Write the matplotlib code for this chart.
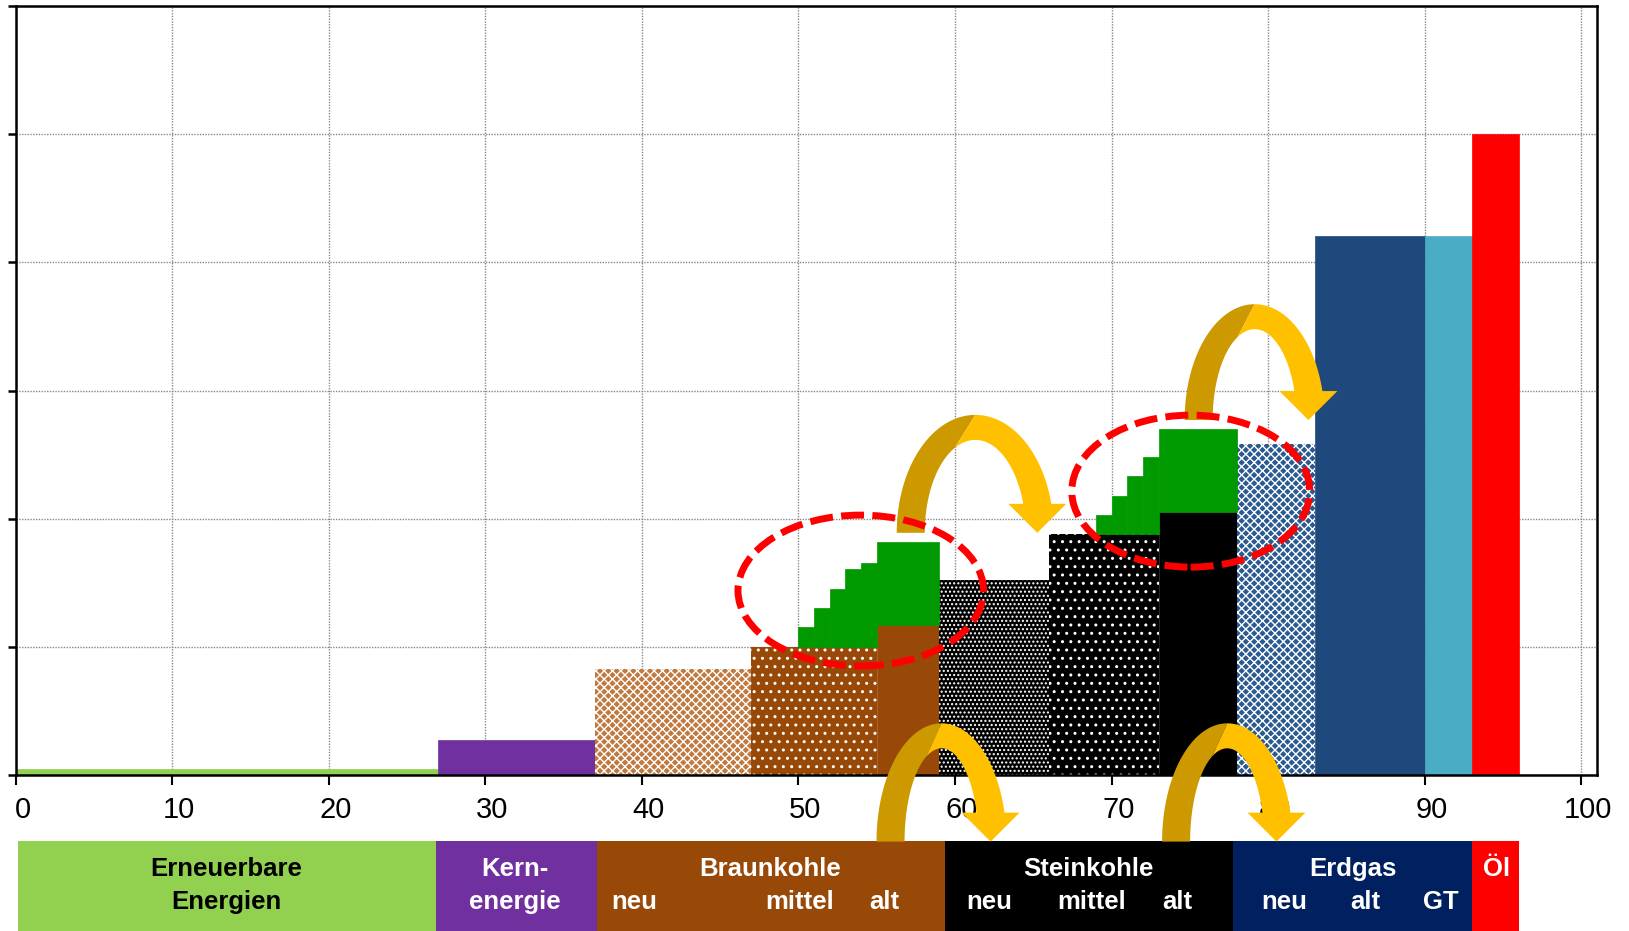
import numpy as np
import matplotlib
matplotlib.use("Agg")
import matplotlib.pyplot as plt
from matplotlib.patches import Ellipse, Polygon, Rectangle
import matplotlib.transforms as mtransforms

# ---------------- data ----------------
bar_left = [0, 27, 37, 47, 55, 59, 66, 73, 78, 83, 90, 93]
bar_width = [27, 10, 10, 8, 4, 7, 7, 5, 5, 7, 3, 3]
bar_height = [0.05, 0.275, 0.83, 1.0, 1.17, 1.52, 1.88, 2.05, 2.58, 4.21, 4.21, 5.0]
bar_color = ['#92D050', '#7030A0', '#C07A40', '#984807', '#984807',
             '#000000', '#000000', '#000000', '#2A5A90', '#1F497D', '#4BACC6', '#FF0000']
bar_hatch = [None, None, 'xxxx', '..', None, '....', '..', None, 'xxxx', None, None, None]

# green staircases (additional capacity)
stairs1_left = [50, 51, 52, 53, 54, 55]
stairs1_width = [1, 1, 1, 1, 1, 4]
stairs1_bottom = [1.0, 1.0, 1.0, 1.0, 1.0, 1.17]
stairs1_top = [1.157, 1.305, 1.454, 1.605, 1.654, 1.818]
stairs2_left = [69, 70, 71, 72, 73]
stairs2_width = [1, 1, 1, 1, 5]
stairs2_bottom = [1.88, 1.88, 1.88, 1.88, 2.05]
stairs2_top = [2.03, 2.18, 2.33, 2.48, 2.70]

# category band
band_edges = [0.15, 26.87, 37.16, 59.39, 77.77, 93.03, 96.02]
band_colors = ['#92D050', '#7030A0', '#984807', '#000000', '#002060', '#FF0000']
row1_labels = ['Erneuerbare', 'Kern-', 'Braunkohle', 'Steinkohle', 'Erdgas', 'Öl']
row1_x = [13.47, 31.9, 48.2, 68.5, 85.4, 94.6]
row1_color = ['black', 'white', 'white', 'white', 'white', 'white']
row2_labels = ['Energien', 'energie', 'neu', 'mittel', 'alt', 'neu', 'mittel', 'alt', 'neu', 'alt', 'GT']
row2_x = [13.47, 31.9, 39.5, 50.1, 55.5, 62.2, 68.7, 74.2, 81.0, 86.2, 91.0]
row2_color = ['black'] + ['white'] * 10

x_ticks = [0, 10, 20, 30, 40, 50, 60, 70, 80, 90, 100]
y_ticks = [0, 1, 2, 3, 4, 5, 6]

# annotations: curved arrows (x_left, x_right, y_base, y_top) and dashed ellipses
arrows = [(56.28, 66.31, 1.89, 2.81), (74.67, 83.61, 2.77, 3.674),
          (54.99, 63.29, -0.52, 0.403), (73.23, 81.55, -0.52, 0.403)]
ellipses = [(53.98, 1.439, 15.68, 1.178), (75.06, 2.215, 15.2, 1.186)]

# ---------------- fonts ----------------
plt.rcParams['font.family'] = ['Liberation Sans', 'DejaVu Sans']
plt.rcParams['hatch.linewidth'] = 1.0
tick_fs, band_fs = 21, 18.5

fig = plt.figure(figsize=(16.29, 9.31), dpi=100)
ax = fig.add_axes([0.00958, 0.1676, 0.9707, 0.8258])
ax.set_xlim(0, 101)
ax.set_ylim(0, 6)

ax.set_axisbelow(True)
ax.grid(True, color='#888888', linestyle=(0, (1, 1)), linewidth=1.0)

# bars
for l, w, h, c, ht in zip(bar_left, bar_width, bar_height, bar_color, bar_hatch):
    if ht is None:
        ax.bar(l, h, width=w, align='edge', color=c, edgecolor=c, linewidth=0.5, zorder=2)
    else:
        ax.bar(l, h, width=w, align='edge', color=c, edgecolor='white', linewidth=0, hatch=ht, zorder=2)

for lefts, widths, bots, tops in [(stairs1_left, stairs1_width, stairs1_bottom, stairs1_top),
                                  (stairs2_left, stairs2_width, stairs2_bottom, stairs2_top)]:
    ax.bar(lefts, np.array(tops) - np.array(bots), width=widths, bottom=bots, align='edge',
           color='#009900', edgecolor='#009900', linewidth=0.5, zorder=2)

# axes styling
for s in ax.spines.values():
    s.set_linewidth(1.8)
    s.set_color('black')
ax.set_xticks(x_ticks)
ax.set_yticks(y_ticks)
ax.set_yticklabels([])
ax.tick_params(axis='y', direction='out', length=6, width=1.8)
ax.tick_params(axis='x', direction='out', length=7, width=1.5, pad=8, labelsize=tick_fs)
offset = mtransforms.ScaledTranslation(0.07, 0, fig.dpi_scale_trans)
for lab in ax.get_xticklabels():
    lab.set_transform(lab.get_transform() + offset)

# category band below the axis
for i in range(len(band_colors)):
    ax.add_patch(Rectangle((band_edges[i], -1.3), band_edges[i + 1] - band_edges[i], 1.3 - 0.519,
                           facecolor=band_colors[i], edgecolor='none', clip_on=False, zorder=3))
for t, x, c in zip(row1_labels, row1_x, row1_color):
    ax.text(x, -0.73, t, ha='center', va='center', color=c, fontsize=band_fs,
            fontweight='bold', clip_on=False, zorder=4)
for t, x, c in zip(row2_labels, row2_x, row2_color):
    ax.text(x, -0.99, t, ha='center', va='center', color=c, fontsize=band_fs,
            fontweight='bold', clip_on=False, zorder=4)

# curved arrows
def curved_arrow(x0, x1, yb, yt, tx=1.79, ty=0.195, head_hw=1.85, head_len=0.226,
                 dark='#CC9900', bright='#FFC000'):
    cx = (x0 + x1) / 2
    a, b = (x1 - x0) / 2, yt - yb
    ai, bi = a - tx, b - ty
    th_j = np.deg2rad(114)
    def outer(t):
        return np.column_stack([cx + a * np.cos(t), yb + b * np.sin(t)])
    def inner(t):
        return np.column_stack([cx + ai * np.cos(t), yb + bi * np.sin(t)])
    t_o = np.linspace(np.pi, np.pi / 2, 60)
    t_i = np.linspace(th_j, np.pi, 60)
    dark_poly = np.vstack([outer(t_o), inner(t_i)])
    ax.add_patch(Polygon(dark_poly, closed=True, facecolor=dark, edgecolor='none',
                         clip_on=False, zorder=6))
    te_o = np.arcsin(min(head_len / b, 1))
    te_i = np.arcsin(min(head_len / bi, 1))
    o = outer(np.linspace(np.pi / 2, te_o, 60))
    i = inner(np.linspace(te_i, th_j, 60))
    hy = yb + head_len
    hx = (o[-1, 0] + i[0, 0]) / 2
    head = np.array([[hx + head_hw, hy], [hx, yb], [hx - head_hw, hy]])
    bright_poly = np.vstack([o, head, i])
    ax.add_patch(Polygon(bright_poly, closed=True, facecolor=bright, edgecolor='none',
                         clip_on=False, zorder=6))

for x0, x1, yb, yt in arrows:
    curved_arrow(x0, x1, yb, yt)

for cx, cy, w, h in ellipses:
    ax.add_patch(Ellipse((cx, cy), w, h, fill=False, edgecolor='#FF0000', linewidth=5,
                         linestyle=(0, (3.3, 1.2)), zorder=7))

fig.savefig('out.png', dpi=100)
